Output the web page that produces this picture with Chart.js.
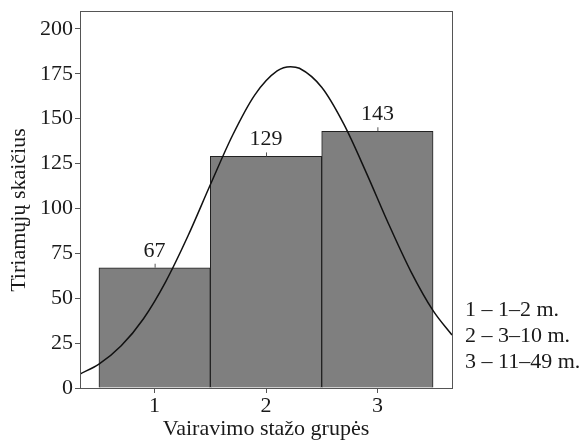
<!DOCTYPE html>
<html>
<head>
<meta charset="utf-8">
<script src="https://cdn.jsdelivr.net/npm/chart.js@4/dist/chart.umd.min.js"></script>
<style>
  html, body { margin: 0; padding: 0; background: #fff; }
  #wrap { width: 584px; height: 442px; position: relative; }
</style>
</head>
<body>
<div id="wrap"><canvas id="chart"></canvas></div>
<script>
// --- data ---
const groups = [1, 2, 3];
const counts = [67, 129, 143];
const legendLines = ['1 – 1–2 m.', '2 – 3–10 m.', '3 – 11–49 m.'];
const yTicks = [0, 25, 50, 75, 100, 125, 150, 175, 200];
const yTitle = 'Tiriamųjų skaičius';

// fitted curve
const curveX = [0.33, 0.5, 0.7, 0.9, 1.1, 1.3, 1.5, 1.7, 1.9, 2.1, 2.22, 2.3, 2.5, 2.7, 2.9, 3.1, 3.3, 3.5, 3.67];
const curveY = [7.8, 13.3, 23.5, 38.6, 59.3, 84.8, 113.2, 140.8, 163.3, 176.6, 179, 178.1, 167.5, 146.8, 120.0, 91.5, 65.0, 43.1, 29.5];

const serif = '"Liberation Serif", "Times New Roman", serif';

// frame around plot, value labels, y title and side legend
const extrasPlugin = {
    id: 'extras',
    afterDraw(chart) {
        const ctx = chart.ctx;
        const area = chart.chartArea;
        const xs = chart.scales.x;
        const ys = chart.scales.y;
        ctx.save();
        ctx.strokeStyle = '#555';
        ctx.lineWidth = 1;
        ctx.strokeRect(area.left + 0.5, area.top + 0.5, area.right - area.left, area.bottom - area.top);

        ctx.fillStyle = '#1a1a1a';
        ctx.font = '22px ' + serif;
        ctx.textAlign = 'center';
        ctx.textBaseline = 'alphabetic';
        groups.forEach((g, i) => {
            const px = xs.getPixelForValue(g);
            const py = ys.getPixelForValue(counts[i]);
            ctx.beginPath();
            ctx.moveTo(px + 0.5, py);
            ctx.lineTo(px + 0.5, py - 4);
            ctx.stroke();
            ctx.fillText(String(counts[i]), px, py - 11);
        });

        ctx.textAlign = 'left';
        ctx.textBaseline = 'middle';
        legendLines.forEach((t, i) => {
            ctx.fillText(t, area.right + 13, 310 + i * 26);
        });

        ctx.save();
        ctx.translate(19, 210);
        ctx.rotate(-Math.PI / 2);
        ctx.textAlign = 'center';
        ctx.fillText(yTitle, 0, 0);
        ctx.restore();
        ctx.restore();
    }
};

const ctx = document.getElementById('chart').getContext('2d');
new Chart(ctx, {
    data: {
        datasets: [
            {
                type: 'line',
                data: curveX.map((x, i) => ({ x: x, y: curveY[i] })),
                borderColor: '#111',
                borderWidth: 1.5,
                pointRadius: 0,
                tension: 0.4,
                cubicInterpolationMode: 'monotone',
                fill: false,
                order: 0
            },
            {
                type: 'bar',
                data: groups.map((g, i) => ({ x: g, y: counts[i] })),
                backgroundColor: '#7f7f7f',
                borderColor: '#222',
                borderWidth: 1,
                barPercentage: 1,
                categoryPercentage: 1,
                order: 1
            }
        ]
    },
    options: {
        responsive: true,
        maintainAspectRatio: false,
        animation: false,
        layout: { padding: { top: 11, right: 132, left: 0, bottom: 0 } },
        plugins: {
            legend: { display: false },
            tooltip: { enabled: false }
        },
        scales: {
            x: {
                type: 'linear',
                min: 0.33,
                max: 3.67,
                offset: false,
                afterBuildTicks: (scale) => { scale.ticks = groups.map(v => ({ value: v })); },
                afterFit: (scale) => { scale.height = 54; },
                grid: { offset: false, drawOnChartArea: false, drawTicks: true, tickLength: 5, color: '#555' },
                border: { color: '#555' },
                ticks: { color: '#1a1a1a', font: { family: serif, size: 22 }, padding: 0 },
                title: {
                    display: true,
                    text: 'Vairavimo stažo grupės',
                    color: '#1a1a1a',
                    font: { family: serif, size: 22 },
                    padding: { top: 0, bottom: 0 }
                }
            },
            y: {
                min: 0,
                max: 210,
                afterBuildTicks: (scale) => { scale.ticks = yTicks.map(v => ({ value: v })); },
                afterFit: (scale) => {
                    scale.width = 80;
                    scale.paddingTop = 0;
                    scale.paddingBottom = 0;
                },
                grid: { drawOnChartArea: false, drawTicks: true, tickLength: 5, color: '#555' },
                border: { color: '#555' },
                ticks: { color: '#1a1a1a', font: { family: serif, size: 22 }, padding: 2 }
            }
        }
    },
    plugins: [extrasPlugin]
});
</script>
</body>
</html>
